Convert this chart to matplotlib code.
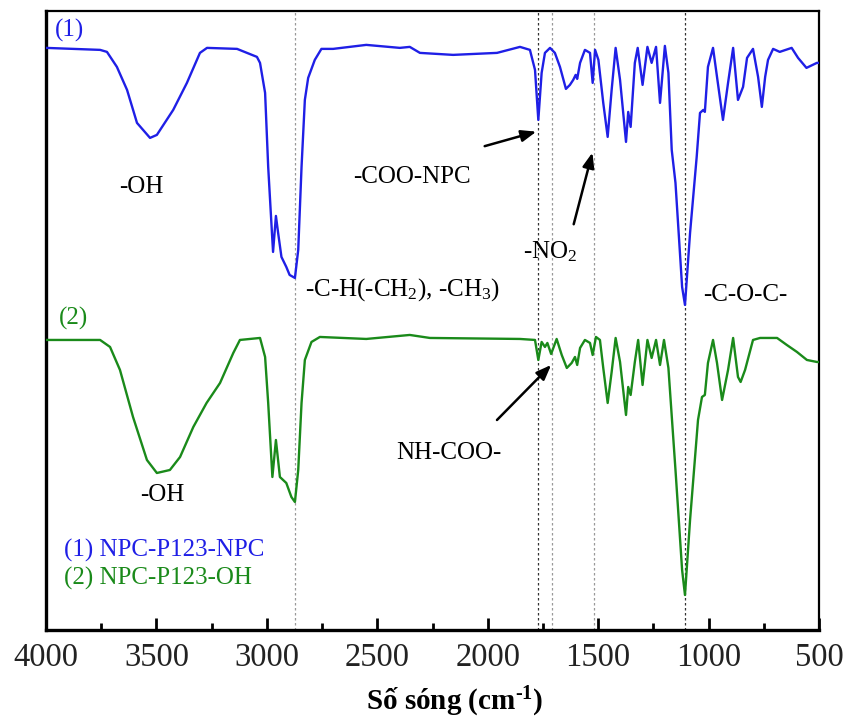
import numpy as np
import matplotlib
matplotlib.use("Agg")
import matplotlib.pyplot as plt

# spectrum (1) NPC-P123-NPC, wavenumber (cm-1) and transmittance (a.u.)
wn1 = [4000, 3755, 3724, 3679, 3633, 3588, 3529, 3498, 3424, 3362, 3303, 3271, 3135, 3090,
       3045, 3031, 3008, 2994, 2977, 2972, 2959, 2949, 2934, 2912, 2897, 2873, 2858, 2843,
       2828, 2813, 2783, 2753, 2700, 2550, 2398, 2353, 2307, 2157, 1958, 1854, 1809, 1786,
       1771, 1756, 1741, 1718, 1696, 1673, 1646, 1628, 1613, 1602, 1595, 1582, 1560, 1537,
       1525, 1514, 1499, 1477, 1457, 1439, 1421, 1401, 1374, 1364, 1353, 1334, 1321, 1299,
       1277, 1258, 1238, 1220, 1198, 1182, 1167, 1150, 1120, 1107, 1084, 1054, 1039, 1024,
       1017, 1003, 980, 962, 935, 912, 889, 867, 844, 826, 799, 776, 759, 744, 731, 708,
       678, 624, 595, 557, 510, 500]
t1 = [58.2, 58.0, 57.8, 56.3, 54.0, 50.7, 49.2, 49.5, 52.0, 54.7, 57.7, 58.2, 58.1, 57.7,
      57.3, 56.7, 53.7, 46.3, 39.7, 37.8, 41.4, 39.7, 37.3, 36.3, 35.5, 35.2, 38.0, 46.3,
      53.0, 55.2, 57.0, 58.1, 58.1, 58.5, 58.2, 58.3, 57.7, 57.5, 57.7, 58.3, 58.0, 56.0,
      51.0, 55.7, 57.7, 58.2, 57.7, 56.3, 54.1, 54.5, 55.0, 55.5, 55.1, 56.7, 58.0, 57.7,
      54.7, 58.0, 57.0, 52.7, 49.3, 54.0, 58.2, 55.0, 48.8, 51.8, 50.3, 56.7, 58.2, 54.5,
      58.3, 56.7, 58.3, 52.7, 58.4, 55.7, 48.0, 44.7, 34.3, 32.5, 39.7, 47.3, 51.7, 52.0,
      51.8, 56.3, 58.2, 55.3, 51.0, 54.7, 58.2, 53.0, 54.3, 57.2, 58.1, 55.3, 52.3, 55.3,
      57.0, 58.1, 57.8, 58.2, 57.2, 56.2, 56.7, 56.7]

# spectrum (2) NPC-P123-OH
wn2 = [4000, 3755, 3710, 3665, 3606, 3543, 3498, 3439, 3393, 3333, 3273, 3212, 3152, 3122,
       3031, 3008, 2994, 2975, 2959, 2941, 2912, 2889, 2873, 2858, 2843, 2828, 2798, 2760,
       2550, 2353, 2262, 1854, 1786, 1771, 1756, 1741, 1730, 1713, 1688, 1665, 1642, 1620,
       1605, 1595, 1582, 1560, 1537, 1525, 1510, 1492, 1477, 1457, 1439, 1421, 1401, 1374,
       1364, 1353, 1334, 1319, 1299, 1277, 1258, 1238, 1220, 1202, 1182, 1150, 1120,
       1107, 1084, 1048, 1030, 1017, 1003, 980, 962, 939, 912, 889, 867, 855, 835, 799,
       767, 690, 646, 600, 555, 510, 500]
t2 = [29.0, 29.0, 28.3, 26.0, 21.3, 17.0, 15.7, 16.0, 17.3, 20.3, 22.7, 24.7, 27.7, 29.0,
      29.2, 27.3, 22.7, 15.3, 19.0, 15.3, 14.7, 13.3, 12.8, 16.0, 22.7, 27.0, 28.8, 29.3,
      29.1, 29.5, 29.2, 29.1, 29.0, 27.0, 28.8, 28.3, 28.7, 27.6, 29.1, 27.5, 26.2, 26.7,
      27.3, 26.5, 28.2, 29.0, 28.7, 27.5, 29.3, 29.0, 26.2, 22.7, 25.8, 29.2, 26.8, 21.5,
      24.3, 23.5, 26.8, 29.0, 24.5, 29.0, 27.2, 29.0, 26.5, 29.0, 26.2, 16.0, 6.0,
      3.5, 11.0, 21.0, 23.3, 23.5, 26.7, 29.0, 26.7, 23.0, 26.0, 29.2, 25.3, 24.8, 26.0, 29.0,
      29.2, 29.2, 28.5, 27.8, 27.0, 26.8, 26.8]

# reference lines (cm-1)
dark_lines = [1771, 1107]
gray_lines = [2874, 1708, 1520]

plt.rcParams["font.family"] = ["Liberation Serif", "DejaVu Serif"]
plt.rcParams["mathtext.fontset"] = "custom"
plt.rcParams["mathtext.rm"] = "Liberation Serif"
plt.rcParams["mathtext.it"] = "Liberation Serif:italic"
plt.rcParams["mathtext.bf"] = "Liberation Serif:bold"

blue = "#1f1fe6"
green = "#1a8a1a"

fig = plt.figure(figsize=(8.47, 7.25), dpi=100)
ax = fig.add_axes([0.0543, 0.131, 0.9127, 0.854])

for v in gray_lines:
    ax.axvline(v, color="#999999", ls=(0, (2, 2)), lw=0.9, zorder=1)
for v in dark_lines:
    ax.axvline(v, color="#333333", ls=(0, (2, 2)), lw=0.9, zorder=1)

ax.plot(wn1, t1, color=blue, lw=1.7, zorder=3, solid_joinstyle="round")
ax.plot(wn2, t2, color=green, lw=1.7, zorder=3, solid_joinstyle="round")

ax.set_xlim(4000, 500)
ax.set_ylim(0, 61.9)
ax.set_xticks([4000, 3500, 3000, 2500, 2000, 1500, 1000, 500])
ax.set_xticks(np.arange(3750, 500, -500), minor=True)
ax.set_yticks([])
ax.tick_params(axis="x", which="major", direction="in", length=9, width=2,
               labelsize=23.5, labelcolor="#222222", pad=9)
ax.tick_params(axis="x", which="minor", direction="in", length=5, width=2)
for s in ["left", "bottom"]:
    ax.spines[s].set_linewidth(2.4)
for s in ["top", "right"]:
    ax.spines[s].set_linewidth(1.6)

ax.set_xlabel("Số sóng (cm$^{\\mathbf{\\text{-}1}}$)", fontsize=21, fontweight="bold")
ax.xaxis.set_label_coords(0.529, -0.088)

fs = 18
ax.text(3960, 58.8, "(1)", color=blue, fontsize=fs, va="bottom")
ax.text(3940, 30.0, "(2)", color=green, fontsize=fs, va="bottom")
ax.text(3570, 44.3, "-OH", fontsize=fs, ha="center", va="center")
ax.text(3475, 13.5, "-OH", fontsize=fs, ha="center", va="center")
ax.text(2827, 34.0, "-C-H(-CH$_2$), -CH$_3$)", fontsize=fs, ha="left", va="center")
ax.text(2343, 45.3, "-COO-NPC", fontsize=fs, ha="center", va="center")
ax.text(1718, 37.8, "-NO$_2$", fontsize=fs, ha="center", va="center")
ax.text(835, 33.5, "-C-O-C-", fontsize=fs, ha="center", va="center")
ax.text(2175, 17.7, "NH-COO-", fontsize=fs, ha="center", va="center")
ax.text(3918, 8.0, "(1) NPC-P123-NPC", color=blue, fontsize=fs, ha="left", va="center")
ax.text(3918, 5.2, "(2) NPC-P123-OH", color=green, fontsize=fs, ha="left", va="center")

arrow = dict(arrowstyle="-|>,head_length=0.9,head_width=0.35", color="black", lw=1.8)
ax.annotate("", xy=(1768, 49.9), xytext=(2026, 48.3), arrowprops=arrow)
ax.annotate("", xy=(1523, 48.0), xytext=(1614, 40.3), arrowprops=arrow)
ax.annotate("", xy=(1704, 26.7), xytext=(1967, 20.8), arrowprops=arrow)

fig.savefig("out.png", dpi=100)
